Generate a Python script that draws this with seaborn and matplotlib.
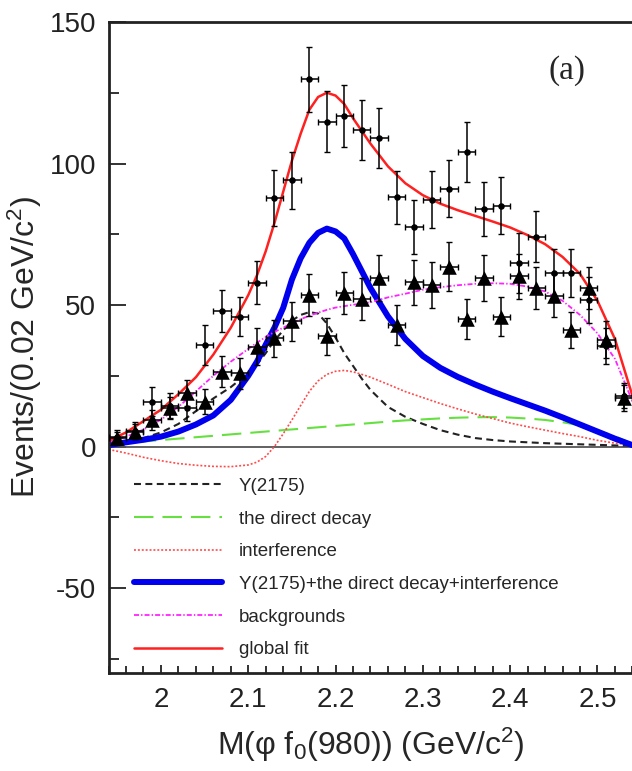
import seaborn as sns
import matplotlib.pyplot as plt
from matplotlib.ticker import MultipleLocator

# data points: bin centres (0.02 GeV bins)
mass_bins = [1.95, 1.97, 1.99, 2.01, 2.03, 2.05, 2.07, 2.09, 2.11, 2.13,
             2.15, 2.17, 2.19, 2.21, 2.23, 2.25, 2.27, 2.29, 2.31, 2.33,
             2.35, 2.37, 2.39, 2.41, 2.43, 2.45, 2.47, 2.49, 2.51, 2.53]

# dots with error bars
dots_y = [3.5, 5.5, 15.9, 14.5, 13.6, 35.9, 47.9, 45.9, 57.9, 87.8,
          94.0, 129.8, 114.8, 116.9, 111.9, 109.0, 88.0, 77.7, 87.2, 91.1,
          104.0, 84.0, 85.1, 64.8, 74.2, 61.3, 61.3, 51.8, 35.5, 18.0]
dots_err = [2.5, 3, 5, 4.5, 4.5, 7, 7.5, 7, 7.5, 10,
            10, 11.5, 10.8, 11, 10.5, 10.5, 9.5, 9.5, 10, 10,
            10.5, 9.5, 10, 10.5, 9, 8.5, 8.5, 8, 6.5, 4.5]

# triangles with error bars
tri_y = [3.0, 5.3, 9.4, 13.6, 18.9, 15.9, 26.5, 25.9, 35.3, 38.3,
         44.2, 53.6, 38.9, 54.2, 52.1, 59.5, 43.0, 58.0, 57.1, 63.6,
         45.1, 59.5, 45.9, 60.1, 56.0, 53.3, 41.2, 56.0, 37.7, 17.1]
tri_err = [2, 2.5, 3.5, 4, 4.5, 4.5, 5.5, 5.5, 6.5, 6.5,
           7, 7.5, 6.5, 7.5, 7.5, 8, 7, 8, 8, 8.5,
           7, 8, 7, 8, 7.5, 7.5, 6.5, 7.5, 6.5, 4.5]

# fit curves
curve_x = [1.94, 1.96, 1.98, 2.00, 2.02, 2.04, 2.06, 2.08, 2.10, 2.11,
           2.12, 2.13, 2.14, 2.15, 2.16, 2.17, 2.18, 2.19, 2.20, 2.21,
           2.22, 2.23, 2.24, 2.26, 2.28, 2.30, 2.32, 2.34, 2.36, 2.38,
           2.40, 2.42, 2.44, 2.46, 2.48, 2.50, 2.52, 2.54]
y2175 = [0.5, 1.5, 3, 5, 8, 12.5, 17, 21, 26, 29,
         33, 37.5, 41, 44.5, 46.5, 47.5, 47, 43.5, 38.5, 33,
         28.5, 24, 20, 14, 10.5, 8, 5.8, 4.2, 3, 2.3,
         1.8, 1.5, 1.2, 1.0, 0.8, 0.6, 0.4, 0.3]
direct = [0.3, 1.2, 1.8, 2.3, 2.8, 3.3, 3.8, 4.3, 4.8, 5.05,
          5.3, 5.55, 5.8, 6.05, 6.3, 6.55, 6.8, 7.05, 7.3, 7.55,
          7.8, 8.05, 8.3, 8.8, 9.25, 9.6, 9.95, 10.2, 10.35, 10.4,
          10.25, 9.9, 9.4, 8.6, 7.5, 5.8, 3.6, 1.0]
interf = [-1, -2.3, -3.8, -5, -6, -6.6, -7, -7.1, -6.5, -5.5,
          -3.5, 0, 4.5, 9.4, 14.5, 19.5, 23.2, 25.5, 26.6, 26.9,
          26.4, 25.5, 24.5, 22, 19.4, 17.3, 15.2, 13.3, 11.5, 9.9,
          8.3, 7, 5.8, 4.6, 3.5, 2.2, 1.2, 0.5]
signal_sum = [0.5, 1.5, 2.4, 3.5, 5.3, 7.8, 11, 16.5, 25, 30,
              36, 42, 49, 59, 66.5, 72, 75.5, 77, 76, 73.5,
              68, 62, 56, 46, 38, 32, 27.8, 24.6, 21.9, 19.4,
              17.1, 14.9, 12.7, 10.3, 7.8, 5.3, 2.8, 0.5]
backgr = [1.5, 3.5, 6, 9.5, 14, 19.5, 25, 30, 34.5, 36.7,
          38.7, 40.5, 42, 43.5, 45, 46.2, 47.3, 48.3, 49.1, 49.6,
          50.1, 50.5, 51, 52.7, 54, 55.4, 56.3, 57, 57.5, 57.7,
          57.5, 56.5, 54.8, 51.5, 46.5, 40, 31, 16]
global_fit = [2, 5, 9, 13, 18.5, 24.5, 32.5, 42, 53.5, 60.5,
              69, 79, 90, 101, 110.5, 119, 123.5, 125, 124, 121,
              116, 111.5, 107, 99, 93, 88.8, 85.8, 83.5, 81.5, 79.5,
              77.4, 74.7, 71.5, 67, 61, 51.5, 38, 18]

sns.set_style("ticks")
plt.rcParams['font.family'] = ['Liberation Sans', 'DejaVu Sans']
plt.rcParams['mathtext.fontset'] = 'custom'
plt.rcParams['mathtext.rm'] = 'Liberation Sans'
plt.rcParams['mathtext.it'] = 'Liberation Sans:italic'
plt.rcParams['lines.scale_dashes'] = False
plt.rcParams['axes.unicode_minus'] = False

fig = plt.figure(figsize=(6.32, 7.71), dpi=100)
ax = fig.add_axes([0.1718, 0.1271, 0.8288, 0.8444])

ax.axhline(0, color='#555555', lw=1.3, zorder=1)

sns.lineplot(x=curve_x, y=y2175, ax=ax, color='#222222', lw=1.5,
             linestyle=(0, (5, 3.2)), label='Y(2175)')
sns.lineplot(x=curve_x, y=direct, ax=ax, color='#66e040', lw=1.5,
             linestyle=(0, (14, 6.5)), label='the direct decay')
sns.lineplot(x=curve_x, y=interf, ax=ax, color='#ff4a4a', lw=1.2,
             linestyle=(0, (1.4, 1.4)), label='interference')
sns.lineplot(x=curve_x, y=signal_sum, ax=ax, color='#0000ee', lw=4.3,
             label='Y(2175)+the direct decay+interference')
sns.lineplot(x=curve_x, y=backgr, ax=ax, color='#ff22ff', lw=1.3,
             linestyle=(0, (3.6, 1.5, 1, 1.5)), label='backgrounds')
sns.lineplot(x=curve_x, y=global_fit, ax=ax, color='#ff2020', lw=1.8,
             label='global fit')
handles, labels = ax.get_legend_handles_labels()

# data with error bars
ax.errorbar(mass_bins, dots_y, yerr=dots_err, xerr=0.01, fmt='none',
            ecolor='black', elinewidth=1.1, capsize=2.5, zorder=5)
ax.errorbar(mass_bins, tri_y, yerr=tri_err, xerr=0.01, fmt='none',
            ecolor='black', elinewidth=1.1, capsize=2.5, zorder=5)
sns.scatterplot(x=mass_bins, y=dots_y, ax=ax, color='black', marker='o',
                s=22, linewidth=0, zorder=6)
sns.scatterplot(x=mass_bins, y=tri_y, ax=ax, color='black', marker='^',
                s=110, linewidth=0, zorder=6)

ax.legend(handles, labels, loc='upper left', bbox_to_anchor=(0.048, 0.3),
          frameon=False, fontsize=13.5, handlelength=4.7, handletextpad=0.9,
          labelspacing=0.83, borderpad=0, borderaxespad=0)

ax.set_xlim(1.94, 2.54)
ax.set_ylim(-80, 150)
ax.xaxis.set_major_locator(MultipleLocator(0.1))
ax.xaxis.set_minor_locator(MultipleLocator(0.02))
ax.yaxis.set_major_locator(MultipleLocator(50))
ax.yaxis.set_minor_locator(MultipleLocator(25))
ax.set_xticks([2.0, 2.1, 2.2, 2.3, 2.4, 2.5])
ax.set_xticklabels(['2', '2.1', '2.2', '2.3', '2.4', '2.5'])

ax.tick_params(axis='both', which='both', direction='in', width=1.3,
               colors='#222222', labelsize=20)
ax.tick_params(axis='x', which='major', length=5.5, pad=10)
ax.tick_params(axis='x', which='minor', length=5)
ax.tick_params(axis='y', which='major', length=12, pad=9)
ax.tick_params(axis='y', which='minor', length=7)

for side in ['left', 'bottom', 'top']:
    ax.spines[side].set_linewidth(2)
    ax.spines[side].set_color('#222222')
ax.spines['right'].set_visible(False)

ax.set_xlabel('M(φ f$_0$(980)) (GeV/c$^2$)', fontsize=23, labelpad=9)
ax.set_ylabel('Events/(0.02 GeV/c$^2$)', fontsize=23, labelpad=4)

ax.text(0.875, 0.926, '(a)', transform=ax.transAxes, fontsize=24,
        family='Liberation Serif', ha='center', va='center')

fig.savefig('out.png', dpi=100)
